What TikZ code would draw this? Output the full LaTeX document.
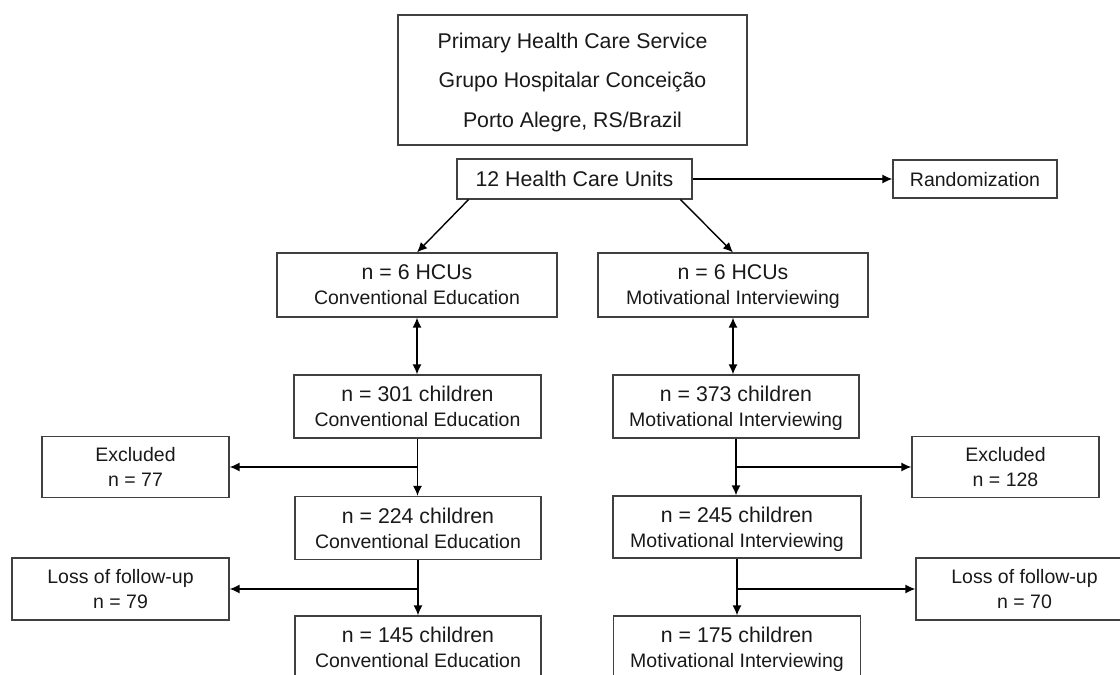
\documentclass[tikz,border=0pt]{standalone}
\usepackage{fontspec}
\setmainfont{Liberation Sans}
\usepackage{tikz}
\usetikzlibrary{positioning,arrows.meta}
\newcommand{\smalltext}{\fontsize{9.75pt}{12.5pt}\selectfont}
\newcommand{\bigtext}{\fontsize{10.65pt}{12.5pt}\selectfont}

\begin{document}
\begin{tikzpicture}
		[x=0.5pt,y=-0.5pt,
		box/.style={draw=black!75,line width=0.6pt,inner sep=0pt,align=center,text depth=0pt,font=\bigtext,text=black!90},
		flow/.style={->,>={Latex[length=5pt,width=4.5pt]},line width=0.7pt,black}]
		\useasboundingbox (0,0) rectangle (1120,675);
		\clip (0,0) rectangle (1120,675);

		% draw the service box and the units
		\node[box,minimum width=174.5pt,minimum height=65pt,font=\fontsize{10.65pt}{19.75pt}\selectfont] (service) at (572.5,80)
			{Primary Health Care Service\\Grupo Hospitalar Concei\c{c}\~ao\\Porto Alegre, RS/Brazil};
		\node[box,minimum width=117.5pt,minimum height=20pt] (units) at (574.5,179) {12 Health Care Units};
		\node[box,minimum width=82pt,minimum height=19pt,font=\smalltext] (random) at (975,179) {Randomization};

		% draw the two arms
		\node[box,minimum width=140pt,minimum height=32pt] (hcuce) at (417,285) {n = 6 HCUs\\{\smalltext Conventional Education}};
		\node[box,minimum width=135pt,minimum height=32pt] (hcumi) at (733,285) {n = 6 HCUs\\{\smalltext Motivational Interviewing}};

		\node[box,minimum width=123.5pt,minimum height=31.5pt] (ce301) at (417.5,406.5) {n = 301 children\\{\smalltext Conventional Education}};
		\node[box,minimum width=123pt,minimum height=31.5pt] (mi373) at (736,406.5) {n = 373 children\\{\smalltext Motivational Interviewing}};
		\node[box,minimum width=123pt,minimum height=31.5pt] (ce224) at (418,528) {n = 224 children\\{\smalltext Conventional Education}};
		\node[box,minimum width=124pt,minimum height=31pt] (mi245) at (737,527) {n = 245 children\\{\smalltext Motivational Interviewing}};
		\node[box,minimum width=123pt,minimum height=31.5pt] (ce145) at (418,647.5) {n = 145 children\\{\smalltext Conventional Education}};
		\node[box,minimum width=123.5pt,minimum height=31.5pt] (mi175) at (737,647.5) {n = 175 children\\{\smalltext Motivational Interviewing}};

		% draw the excluded and lost children
		\node[box,minimum width=93.5pt,minimum height=30.5pt,font=\smalltext] (exce) at (135.5,467) {Excluded\\n = 77};
		\node[box,minimum width=93.5pt,minimum height=30.5pt,font=\smalltext] (exmi) at (1005.5,467) {Excluded\\n = 128};
		\node[box,minimum width=108.5pt,minimum height=31pt,font=\smalltext] (lossce) at (120.5,589) {Loss of follow-up\\n = 79};
		\node[box,minimum width=108.5pt,minimum height=31pt,font=\smalltext] (lossmi) at (1024.5,589) {Loss of follow-up\\n = 70};

		%draw the arrows
		\draw [flow] (units) -- (random);
		\draw [flow] (units.191) -- (hcuce.north);
		\draw [flow] (units.349) -- (hcumi.north);
		\draw [flow,<->] (hcuce.south) -- (hcuce.south |- ce301.north);
		\draw [flow,<->] (hcumi.south) -- (hcumi.south |- mi373.north);

		\draw [flow] (ce301.south) -- (ce301.south |- ce224.north);
		\draw [flow] (ce301.south |- exce.east) -- (exce.east);
		\draw [flow] (mi373.south) -- (mi373.south |- mi245.north);
		\draw [flow] (mi373.south |- exmi.west) -- (exmi.west);

		\draw [flow] (ce224.south) -- (ce224.south |- ce145.north);
		\draw [flow] (ce224.south |- lossce.east) -- (lossce.east);
		\draw [flow] (mi245.south) -- (mi245.south |- mi175.north);
		\draw [flow] (mi245.south |- lossmi.west) -- (lossmi.west);
	\end{tikzpicture}
\end{document}
